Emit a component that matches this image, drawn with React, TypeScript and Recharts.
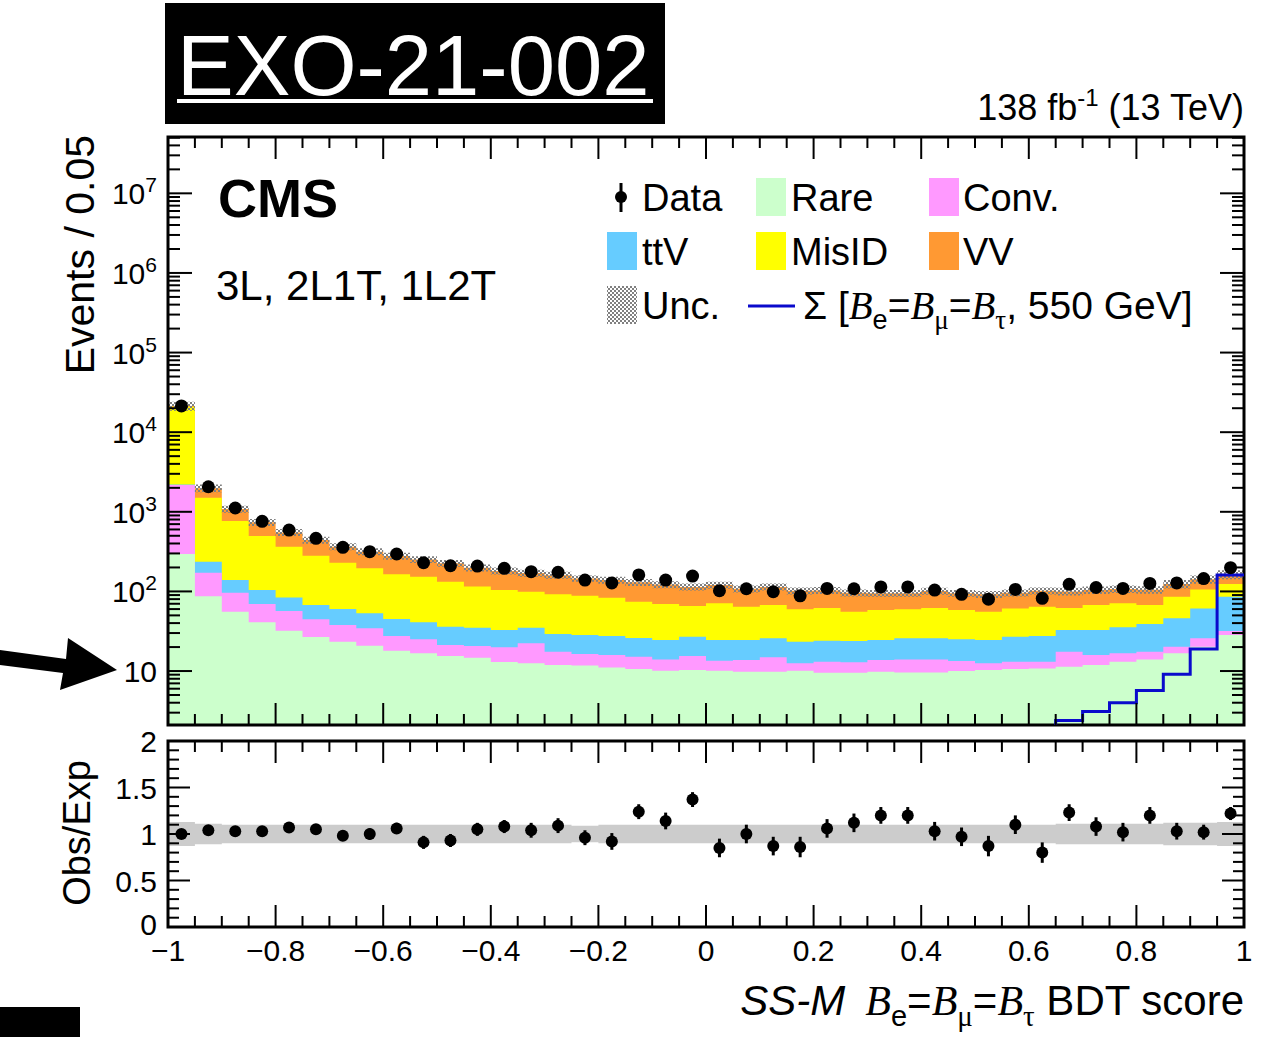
import React from "react";
import {
  ComposedChart,
  Area,
  Line,
  Scatter,
  ErrorBar,
  XAxis,
  YAxis,
  ReferenceArea,
} from "recharts";

// 40 bins of width 0.05 on the BDT score
const N_BINS = 40;
const BIN_EDGES = Array.from({ length: N_BINS + 1 }, (_, i) => -1 + i * 0.05);
const BIN_CENTERS = BIN_EDGES.slice(0, N_BINS).map((e) => e + 0.025);

const X_LABELS = ["−1", "−0.8", "−0.6", "−0.4", "−0.2", "0", "0.2", "0.4", "0.6", "0.8", "1"];
const Y_DECADES = [10, 100, 1e3, 1e4, 1e5, 1e6, 1e7];
const Y_DECADE_EXP = ["", "2", "3", "4", "5", "6", "7"];
const RATIO_MAJOR = [0, 0.5, 1, 1.5, 2];
const RATIO_LABELS = ["0", "0.5", "1", "1.5", "2"];

// background components, events per bin
const RARE = [295, 87, 55.6, 40.9, 32, 26.7, 23.3, 20.8, 18, 16.7, 15.4, 14.7, 13, 12.5, 11.9, 11.7, 11.1, 10.6, 10.1, 10.3, 10.1, 9.8, 9.8, 10.1, 9.5, 9.5, 9.8, 9.6, 9.6, 10, 10.3, 10.6, 10.8, 11.3, 11.9, 13.1, 14, 16.7, 20.2, 28.3];
const CONV = [1875, 85, 40.4, 28.6, 24.8, 17.9, 14.5, 13.6, 9.5, 8.3, 5.8, 5.9, 6.9, 9.8, 5.6, 4.7, 4.8, 4.5, 3.9, 5.1, 3.4, 4, 5.1, 2.4, 3.6, 3.4, 4, 4.4, 4.4, 3.4, 2.2, 2.5, 2.3, 6.2, 4, 3.6, 3.5, 3.5, 5.6, 3.5];
const TTV = [30, 64, 43, 34.5, 27.2, 22.9, 22.2, 18.6, 17.5, 16, 14.8, 14.4, 12.8, 12.7, 11.7, 11.9, 11.6, 10.9, 10.5, 11.6, 11, 10.7, 10.9, 10.8, 10.9, 10.9, 10.7, 11.8, 11.8, 11.6, 12, 13.9, 14.4, 15.2, 16.8, 18.7, 21.4, 25.8, 35.2, 54.2];
const MISID = [18700, 1264, 627, 393, 280, 213.5, 169, 142, 119, 112, 96, 80, 71.3, 64, 62.8, 59.7, 55.5, 48, 45, 38.6, 46.5, 39.5, 41.7, 36.3, 38, 31.8, 33.9, 33.8, 36.2, 33.4, 31.1, 34, 36.5, 29.3, 34.8, 35.6, 28.6, 40, 45, 38];
const VV = [500, 482, 319, 241, 187, 161, 136, 121, 114, 99, 94, 83, 77, 71, 68, 57, 56, 56, 52.5, 48.4, 49, 44, 46.5, 42.4, 41, 40.4, 36.6, 35.4, 39, 36.6, 36.4, 35, 38, 38, 36.5, 36, 37.5, 38, 36, 39];
// relative uncertainty of the total prediction
const UNC = [0.13, 0.11, 0.1, 0.1, 0.1, 0.1, 0.1, 0.1, 0.1, 0.1, 0.1, 0.1, 0.1, 0.1, 0.1, 0.09, 0.1, 0.1, 0.1, 0.1, 0.1, 0.1, 0.1, 0.1, 0.1, 0.1, 0.1, 0.1, 0.1, 0.1, 0.1, 0.1, 0.1, 0.11, 0.11, 0.11, 0.11, 0.12, 0.12, 0.13];
// signal, only the last bins reach into the visible range
const SIGNAL = [null, null, null, null, null, null, null, null, null, null, null, null, null, null, null, null, null, null, null, null, null, null, null, null, null, null, null, null, null, null, null, null, 1.6, 2.4, 3.1, 4.0, 5.7, 9.1, 18.9, 161];

const DATA = [21400, 2065, 1117, 760, 590, 464, 358, 316, 295, 229, 210, 208, 195, 177, 174, 139, 128, 161, 139, 156, 102, 108, 99, 88, 109, 108, 114, 114, 104, 92, 80, 106, 82, 123, 112, 109, 126, 128, 145, 199];
const RATIO = [1.0, 1.04, 1.03, 1.03, 1.07, 1.05, 0.98, 1.0, 1.06, 0.91, 0.93, 1.05, 1.08, 1.04, 1.09, 0.96, 0.92, 1.24, 1.14, 1.37, 0.85, 1.0, 0.87, 0.86, 1.06, 1.12, 1.2, 1.2, 1.03, 0.97, 0.87, 1.1, 0.8, 1.23, 1.08, 1.02, 1.2, 1.03, 1.02, 1.22];
const RATIO_ERR = [0.01, 0.02, 0.03, 0.04, 0.04, 0.05, 0.05, 0.06, 0.06, 0.07, 0.07, 0.07, 0.07, 0.08, 0.08, 0.08, 0.09, 0.08, 0.09, 0.08, 0.1, 0.1, 0.1, 0.11, 0.1, 0.1, 0.09, 0.09, 0.1, 0.1, 0.11, 0.1, 0.11, 0.09, 0.1, 0.1, 0.09, 0.09, 0.08, 0.07];

const COLORS = {
  rare: "#ccffcc",
  conv: "#ff99ff",
  ttv: "#66ccff",
  misid: "#ffff00",
  vv: "#ff9933",
  signal: "#0a0acc",
  band: "#cccccc",
};

const FONT = "'Liberation Sans', Arial, Helvetica, sans-serif";
const SERIF = "'Liberation Serif', 'Times New Roman', serif";

const W = 1281;
const H = 1037;
const PLOT_L = 168;
const PLOT_R = 1244;

const MAIN_H = 740;
const MAIN_TOP = 137;
const MAIN_BOTTOM = 725;
const Y_MIN = 2.1;
const Y_MAX = 5.1e7;

const RATIO_DIV_TOP = 715;
const RATIO_H = H - RATIO_DIV_TOP;
const RATIO_TOP = 26; // 741 on the page
const RATIO_BOTTOM = 212; // 927 on the page

// axes need a non-zero size to render, keep it at 1px and eat it from the margin
const AXIS_PX = 1;

// step tables: one row per bin edge, last edge repeats the last bin
const rows = BIN_EDGES.map((x, i) => {
  const b = Math.min(i, N_BINS - 1);
  const c1 = RARE[b];
  const c2 = c1 + CONV[b];
  const c3 = c2 + TTV[b];
  const c4 = c3 + MISID[b];
  const c5 = c4 + VV[b];
  return {
    x,
    rare: c1,
    conv: c2,
    ttv: c3,
    misid: c4,
    vv: c5,
    unc: [c5 * (1 - UNC[b]), c5 * (1 + UNC[b])],
    band: [1 - UNC[b], 1 + UNC[b]],
    sig: SIGNAL[b],
  };
});

const dataPoints = BIN_CENTERS.map((x, i) => ({ x, y: DATA[i] }));
const ratioPoints = BIN_CENTERS.map((x, i) => ({ x, y: RATIO[i], err: RATIO_ERR[i] }));

const logMinor: number[] = [];
for (let d = 1; d <= 1e7; d *= 10) {
  for (let k = 2; k <= 9; k++) {
    const v = k * d;
    if (v > Y_MIN && v < Y_MAX) logMinor.push(v);
  }
}
const MAIN_Y_TICKS = [...Y_DECADES, ...logMinor].sort((a, b) => a - b);
const RATIO_Y_TICKS = Array.from({ length: 21 }, (_, i) => i / 10);

const isMajorX = (v: number) => Math.abs(v * 5 - Math.round(v * 5)) < 1e-6;

function makeXTick(top: number, bottom: number, withLabels: boolean) {
  return (props: any) => {
    const { x, payload } = props;
    const v = payload.value;
    const major = isMajorX(v);
    const len = major ? 22 : 11;
    return (
      <g>
        <line x1={x} x2={x} y1={bottom} y2={bottom - len} stroke="#000" strokeWidth={2} />
        <line x1={x} x2={x} y1={top} y2={top + len} stroke="#000" strokeWidth={2} />
        {withLabels && major && (
          <text x={x} y={bottom + 34} textAnchor="middle" fontSize={30} fontFamily={FONT} fill="#000">
            {X_LABELS[Math.round((v + 1) * 5)]}
          </text>
        )}
      </g>
    );
  };
}

function MainYTick(props: any) {
  const { y, payload } = props;
  const v = payload.value;
  const di = Y_DECADES.indexOf(v);
  const len = di >= 0 ? 24 : 12;
  return (
    <g>
      <line x1={PLOT_L} x2={PLOT_L + len} y1={y} y2={y} stroke="#000" strokeWidth={2} />
      <line x1={PLOT_R} x2={PLOT_R - len} y1={y} y2={y} stroke="#000" strokeWidth={2} />
      {di >= 0 && (
        <text x={PLOT_L - 11} y={y + 11} textAnchor="end" fontSize={30} fontFamily={FONT} fill="#000">
          10
          {Y_DECADE_EXP[di] && (
            <tspan dy={-12} fontSize={21}>
              {Y_DECADE_EXP[di]}
            </tspan>
          )}
        </text>
      )}
    </g>
  );
}

function RatioYTick(props: any) {
  const { y, payload } = props;
  const v = payload.value;
  const mi = RATIO_MAJOR.findIndex((m) => Math.abs(m - v) < 1e-6);
  const len = mi >= 0 ? 22 : 11;
  return (
    <g>
      <line x1={PLOT_L} x2={PLOT_L + len} y1={y} y2={y} stroke="#000" strokeWidth={2} />
      <line x1={PLOT_R} x2={PLOT_R - len} y1={y} y2={y} stroke="#000" strokeWidth={2} />
      {mi >= 0 && (
        <text x={PLOT_L - 11} y={y + (mi === 0 ? 8 : 11)} textAnchor="end" fontSize={30} fontFamily={FONT} fill="#000">
          {RATIO_LABELS[mi]}
        </text>
      )}
    </g>
  );
}

const dot = (r: number) => (p: any) => <circle cx={p.cx} cy={p.cy} r={r} fill="#000" />;

function HatchDefs({ id }: { id: string }) {
  return (
    <defs>
      <pattern id={id} width="4" height="4" patternUnits="userSpaceOnUse">
        <rect x="0" y="0" width="2" height="2" fill="#808080" />
        <rect x="2" y="2" width="2" height="2" fill="#808080" />
      </pattern>
    </defs>
  );
}

// B_e=B_mu=B_tau with serif italic B's
function BranchingLabel({ size, lead = 0 }: { size: number; lead?: number }) {
  const sub = Math.round(size * 0.7);
  const d = Math.round(size * 0.25);
  return (
    <>
      <tspan dx={lead} fontFamily={SERIF} fontStyle="italic">B</tspan>
      <tspan dy={d} fontSize={sub}>e</tspan>
      <tspan dy={-d}>=</tspan>
      <tspan fontFamily={SERIF} fontStyle="italic">B</tspan>
      <tspan dy={d} fontSize={sub} fontFamily={SERIF}>μ</tspan>
      <tspan dy={-d}>=</tspan>
      <tspan fontFamily={SERIF} fontStyle="italic">B</tspan>
      <tspan dy={d} fontSize={sub} fontFamily={SERIF}>τ</tspan>
    </>
  );
}

function Overlay() {
  const boxW = 30;
  const boxH = 38;
  const rowY = [197, 251, 305];
  const text = { fontSize: 38, fontFamily: FONT, fill: "#000" };
  return (
    <svg width={W} height={H} style={{ position: "absolute", left: 0, top: 0, pointerEvents: "none" }}>
      <HatchDefs id="uncLegend" />
      {/* analysis tag */}
      <rect x={165} y={3} width={500} height={121} fill="#000" />
      <text x={177} y={95} fontSize={85} fontFamily={FONT} fill="#fff">EXO-21-002</text>
      <rect x={177} y={99} width={476} height={4} fill="#fff" />
      <rect x={0} y={1007} width={80} height={30} fill="#000" />
      {/* arrow pointing at the 10 label */}
      <polygon points="0,650 66,659 68,638 117,670 60,690 63,673 0,665" fill="#000" />

      <text x={1244} y={120} textAnchor="end" fontSize={36} fontFamily={FONT} fill="#000">
        138 fb<tspan dy={-14} fontSize={24}>-1</tspan>
        <tspan dy={14}> (13 TeV)</tspan>
      </text>
      <text x={218} y={217} fontSize={54} fontWeight="bold" fontFamily={FONT} fill="#000">CMS</text>
      <text x={216} y={300} fontSize={42} fontFamily={FONT} fill="#000">3L, 2L1T, 1L2T</text>

      {/* legend */}
      <line x1={621} x2={621} y1={183} y2={212} stroke="#000" strokeWidth={3} />
      <circle cx={621} cy={rowY[0]} r={6} fill="#000" />
      <text x={642} y={rowY[0] + 14} {...text}>Data</text>
      <rect x={756} y={rowY[0] - 19} width={boxW} height={boxH} fill={COLORS.rare} />
      <text x={791} y={rowY[0] + 14} {...text}>Rare</text>
      <rect x={929} y={rowY[0] - 19} width={boxW} height={boxH} fill={COLORS.conv} />
      <text x={963} y={rowY[0] + 14} {...text}>Conv.</text>

      <rect x={607} y={rowY[1] - 19} width={boxW} height={boxH} fill={COLORS.ttv} />
      <text x={642} y={rowY[1] + 14} {...text}>ttV</text>
      <rect x={756} y={rowY[1] - 19} width={boxW} height={boxH} fill={COLORS.misid} />
      <text x={791} y={rowY[1] + 14} {...text}>MisID</text>
      <rect x={929} y={rowY[1] - 19} width={boxW} height={boxH} fill={COLORS.vv} />
      <text x={963} y={rowY[1] + 14} {...text}>VV</text>

      <rect x={607} y={rowY[2] - 19} width={boxW} height={boxH} fill="url(#uncLegend)" />
      <text x={642} y={rowY[2] + 14} {...text}>Unc.</text>
      <line x1={748} x2={795} y1={rowY[2] + 1} y2={rowY[2] + 1} stroke={COLORS.signal} strokeWidth={3} />
      <text x={803} y={rowY[2] + 14} {...text} fontSize={39}>
        Σ [<BranchingLabel size={39} />
        <tspan dy={-Math.round(39 * 0.25)}>, 550 GeV]</tspan>
      </text>

      {/* axis titles */}
      <text
        transform="rotate(-90)"
        x={-135}
        y={94}
        textAnchor="end"
        fontSize={41}
        fontFamily={FONT}
        fill="#000"
      >
        Events / 0.05
      </text>
      <text
        transform="rotate(-90)"
        x={-833}
        y={90}
        textAnchor="middle"
        fontSize={38}
        fontFamily={FONT}
        fill="#000"
      >
        Obs/Exp
      </text>
      <text x={1244} y={1015} textAnchor="end" fontSize={42} fontFamily={FONT} fill="#000">
        <tspan fontStyle="italic">SS-M</tspan>
        <BranchingLabel size={42} lead={20} />
        <tspan dy={-Math.round(42 * 0.25)}> BDT score</tspan>
      </text>
    </svg>
  );
}

export default function App() {
  return (
    <div style={{ position: "absolute", left: 0, top: 0, width: W, height: H, background: "#fff" }}>
      <div style={{ position: "absolute", left: 0, top: 0 }}>
        <ComposedChart
          width={W}
          height={MAIN_H}
          data={rows}
          margin={{
            top: MAIN_TOP,
            right: W - PLOT_R,
            bottom: MAIN_H - MAIN_BOTTOM - AXIS_PX,
            left: PLOT_L - AXIS_PX,
          }}
        >
          <HatchDefs id="uncHatch" />
          <Area dataKey="vv" type="stepAfter" fill={COLORS.vv} fillOpacity={1} stroke="none" baseValue={Y_MIN} isAnimationActive={false} />
          <Area dataKey="misid" type="stepAfter" fill={COLORS.misid} fillOpacity={1} stroke="none" baseValue={Y_MIN} isAnimationActive={false} />
          <Area dataKey="ttv" type="stepAfter" fill={COLORS.ttv} fillOpacity={1} stroke="none" baseValue={Y_MIN} isAnimationActive={false} />
          <Area dataKey="conv" type="stepAfter" fill={COLORS.conv} fillOpacity={1} stroke="none" baseValue={Y_MIN} isAnimationActive={false} />
          <Area dataKey="rare" type="stepAfter" fill={COLORS.rare} fillOpacity={1} stroke="none" baseValue={Y_MIN} isAnimationActive={false} />
          <Area dataKey="unc" type="stepAfter" fill="url(#uncHatch)" fillOpacity={1} stroke="none" isAnimationActive={false} />
          <Line dataKey="sig" type="stepAfter" stroke={COLORS.signal} strokeWidth={3} dot={false} isAnimationActive={false} />
          <Scatter data={dataPoints} dataKey="y" shape={dot(6.5)} isAnimationActive={false} />
          <ReferenceArea x1={-1} x2={1} y1={Y_MIN} y2={Y_MAX} fill="none" fillOpacity={0} stroke="#000" strokeWidth={3} />
          <XAxis
            dataKey="x"
            type="number"
            domain={[-1, 1]}
            ticks={BIN_EDGES}
            interval={0}
            height={AXIS_PX}
            axisLine={false}
            tickLine={false}
            tickSize={0}
            tickMargin={0}
            tick={makeXTick(MAIN_TOP, MAIN_BOTTOM, false)}
          />
          <YAxis
            type="number"
            scale="log"
            domain={[Y_MIN, Y_MAX]}
            allowDataOverflow
            ticks={MAIN_Y_TICKS}
            interval={0}
            width={AXIS_PX}
            axisLine={false}
            tickLine={false}
            tickSize={0}
            tickMargin={0}
            tick={MainYTick}
          />
        </ComposedChart>
      </div>

      <div style={{ position: "absolute", left: 0, top: RATIO_DIV_TOP }}>
        <ComposedChart
          width={W}
          height={RATIO_H}
          data={rows}
          margin={{
            top: RATIO_TOP,
            right: W - PLOT_R,
            bottom: RATIO_H - RATIO_BOTTOM - AXIS_PX,
            left: PLOT_L - AXIS_PX,
          }}
        >
          <Area dataKey="band" type="stepAfter" fill={COLORS.band} fillOpacity={1} stroke="none" isAnimationActive={false} />
          <Scatter data={ratioPoints} dataKey="y" shape={dot(6)} isAnimationActive={false}>
            <ErrorBar dataKey="err" direction="y" width={0} stroke="#000" strokeWidth={3} />
          </Scatter>
          <ReferenceArea x1={-1} x2={1} y1={0} y2={2} fill="none" fillOpacity={0} stroke="#000" strokeWidth={3} />
          <XAxis
            dataKey="x"
            type="number"
            domain={[-1, 1]}
            ticks={BIN_EDGES}
            interval={0}
            height={AXIS_PX}
            axisLine={false}
            tickLine={false}
            tickSize={0}
            tickMargin={0}
            tick={makeXTick(RATIO_TOP, RATIO_BOTTOM, true)}
          />
          <YAxis
            type="number"
            domain={[0, 2]}
            allowDataOverflow
            ticks={RATIO_Y_TICKS}
            interval={0}
            width={AXIS_PX}
            axisLine={false}
            tickLine={false}
            tickSize={0}
            tickMargin={0}
            tick={RatioYTick}
          />
        </ComposedChart>
      </div>

      <Overlay />
    </div>
  );
}
